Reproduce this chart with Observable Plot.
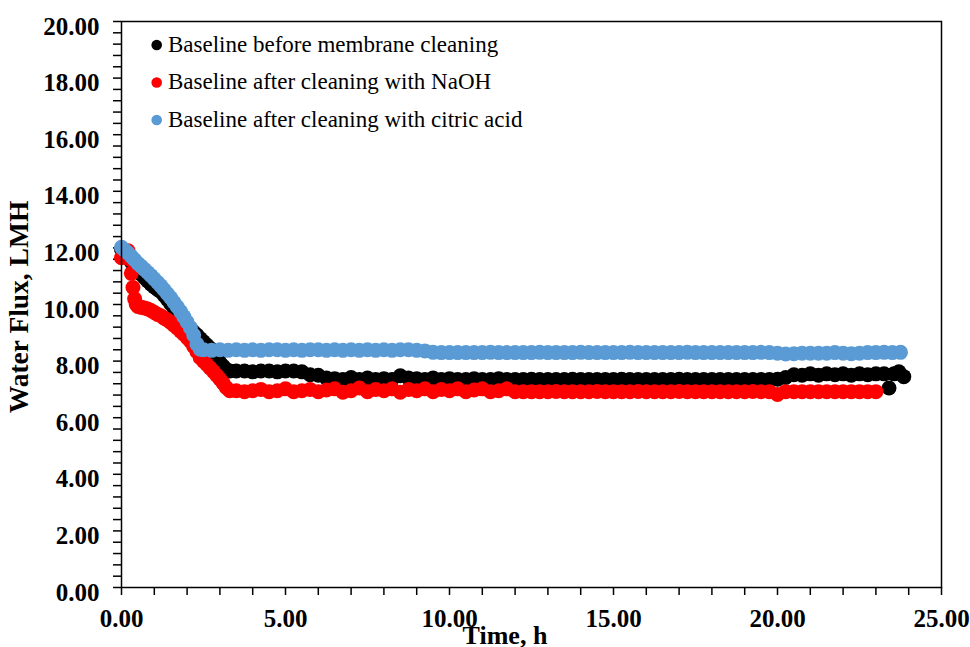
<!DOCTYPE html>
<html><head><meta charset="utf-8">
<script src="https://cdn.jsdelivr.net/npm/d3@7"></script>
<script src="https://cdn.jsdelivr.net/npm/@observablehq/plot@0.6"></script>
<style>
html,body{margin:0;padding:0;background:#fff;}
#chart{position:relative;width:970px;height:647px;overflow:hidden;}
</style></head><body><div id="chart"></div>
<script>
// ---- Data ----
const seriesNames = ["Baseline before membrane cleaning", "Baseline after cleaning with NaOH", "Baseline after cleaning with citric acid"];
const seriesColors = ["#000000", "#FF0000", "#5B9BD5"];

const beforeTime = [
  0,0.1,0.2,0.3,0.4,0.5,0.6,0.7,0.8,0.9,1.0,1.1,1.2,1.3,1.4,1.5,1.6,1.7,1.8,1.9,2.0,2.1,2.2,2.3,2.4,2.5,2.6,2.7,2.8,2.9,3.0,3.1,3.2,3.3,
  3.5,3.75,
  4,4.25,4.5,4.75, 5,5.25,5.5,5.75, 6,6.25,6.5,6.75, 7,7.25,7.5,7.75, 8,8.25,8.5,8.75, 9,9.25,9.5,9.75,
  10,10.25,10.5,10.75, 11,11.25,11.5,11.75, 12,12.25,12.5,12.75, 13,13.25,13.5,13.75, 14,14.25,14.5,14.75,
  15,15.25,15.5,15.75, 16,16.25,16.5,16.75, 17,17.25,17.5,17.75, 18,18.25,18.5,18.75, 19,19.25,19.5,19.75,
  20,20.25,20.5,20.75, 21,21.25,21.5,21.75, 22,22.25,22.5,22.75, 23,23.25,23.4,23.55,23.7,23.85
];
const beforeFlux = [
  11.95,11.8,11.65,11.5,11.34,11.2,11.07,10.95,10.83,10.72,10.62,10.53,10.45,10.32,10.18,10.03,9.88,9.72,9.57,9.42,9.3,9.17,9.03,8.92,8.8,8.68,8.57,8.45,8.25,8.1,7.95,7.82,7.7,7.65,
  7.65,7.65,
  7.62,7.65,7.65,7.62, 7.65,7.65,7.62,7.52, 7.5,7.4,7.38,7.35, 7.42,7.35,7.4,7.35, 7.38,7.35,7.48,7.4, 7.38,7.35,7.4,7.35,
  7.38,7.35,7.35,7.38, 7.35,7.35,7.38,7.35, 7.35,7.35,7.36,7.35, 7.35,7.35,7.35,7.36, 7.35,7.35,7.35,7.35,
  7.35,7.36,7.35,7.35, 7.35,7.35,7.35,7.35, 7.36,7.35,7.35,7.35, 7.35,7.35,7.35,7.35, 7.35,7.35,7.35,7.35,
  7.36,7.42,7.52,7.5, 7.55,7.5,7.55,7.52, 7.55,7.5,7.55,7.52, 7.55,7.55,7.05,7.55,7.62,7.45
];

const naohTime = [
  0,0.1,0.2,0.25,0.3,0.35,0.4,0.45,0.5,0.6,0.7,0.8,0.9,1.0,1.1,1.2,1.3,1.4,1.5,1.6,1.7,1.8,1.9,2.0,2.1,2.2,2.3,2.4,2.5,2.6,2.7,2.8,2.9,3.0,3.1,3.2,3.3,
  3.5,3.75,
  4,4.25,4.5,4.75, 5,5.25,5.5,5.75, 6,6.25,6.5,6.75, 7,7.25,7.5,7.75, 8,8.25,8.5,8.75, 9,9.25,9.5,9.75,
  10,10.25,10.5,10.75, 11,11.25,11.5,11.75, 12,12.25,12.5,12.75, 13,13.25,13.5,13.75, 14,14.25,14.5,14.75,
  15,15.25,15.5,15.75, 16,16.25,16.5,16.75, 17,17.25,17.5,17.75, 18,18.25,18.5,18.75, 19,19.25,19.5,19.75,
  20,20.25,20.5,20.75, 21,21.25,21.5,21.75, 22,22.25,22.5,22.75, 23
];
const naohFlux = [
  11.65,11.85,11.9,11.6,11.1,10.6,10.2,10.0,9.93,9.9,9.88,9.84,9.79,9.72,9.65,9.6,9.52,9.45,9.37,9.27,9.17,9.06,8.95,8.83,8.7,8.52,8.33,8.12,8.0,7.88,7.76,7.63,7.5,7.37,7.22,7.06,6.95,
  6.95,6.92,
  6.95,7.0,6.92,6.95, 7.02,6.92,6.95,7.0, 6.92,6.98,7.02,6.9, 6.95,7.05,6.92,7.0, 6.95,7.02,6.9,7.0, 6.95,7.02,6.92,7.0,
  6.95,7.02,6.92,6.98, 7.02,6.92,6.95,7.02, 6.92,6.92,6.92,6.92, 6.92,6.93,6.92,6.92, 6.92,6.92,6.93,6.92,
  6.92,6.92,6.92,6.93, 6.92,6.92,6.92,6.92, 6.93,6.92,6.92,6.92, 6.92,6.92,6.92,6.92, 6.92,6.93,6.92,6.92,
  6.82,6.92,6.92,6.92, 6.92,6.92,6.92,6.92, 6.92,6.92,6.92,6.92, 6.92
];

const citricTime = [
  0,0.1,0.2,0.3,0.4,0.5,0.6,0.7,0.8,0.9,1.0,1.1,1.2,1.3,1.4,1.5,1.6,1.7,1.8,1.9,2.0,2.1,2.2,2.3,2.4,
  2.5,2.75,
  3,3.25,3.5,3.75, 4,4.25,4.5,4.75, 5,5.25,5.5,5.75, 6,6.25,6.5,6.75, 7,7.25,7.5,7.75, 8,8.25,8.5,8.75, 9,9.25,9.5,9.75,
  10,10.25,10.5,10.75, 11,11.25,11.5,11.75, 12,12.25,12.5,12.75, 13,13.25,13.5,13.75, 14,14.25,14.5,14.75,
  15,15.25,15.5,15.75, 16,16.25,16.5,16.75, 17,17.25,17.5,17.75, 18,18.25,18.5,18.75, 19,19.25,19.5,19.75,
  20,20.25,20.5,20.75, 21,21.25,21.5,21.75, 22,22.25,22.5,22.75, 23,23.25,23.5,23.75
];
const citricFlux = [
  12.02,11.92,11.82,11.7,11.58,11.45,11.35,11.24,11.13,11.02,10.9,10.78,10.66,10.52,10.38,10.24,10.08,9.92,9.75,9.57,9.38,9.18,8.92,8.6,8.42,
  8.4,8.38,
  8.4,8.38,8.4,8.38, 8.4,8.38,8.4,8.4, 8.38,8.4,8.38,8.4, 8.4,8.38,8.4,8.38, 8.4,8.38,8.4,8.38, 8.4,8.38,8.4,8.4, 8.38,8.36,8.31,8.3,
  8.3,8.3,8.3,8.3, 8.3,8.31,8.3,8.3, 8.3,8.3,8.3,8.31, 8.3,8.3,8.3,8.3, 8.31,8.3,8.3,8.3,
  8.3,8.3,8.31,8.3, 8.3,8.3,8.3,8.3, 8.3,8.31,8.3,8.3, 8.3,8.3,8.3,8.3, 8.3,8.3,8.31,8.3,
  8.28,8.25,8.26,8.28, 8.28,8.28,8.28,8.3, 8.28,8.26,8.28,8.3, 8.3,8.31,8.3,8.31
];

const xMajor = [0, 5, 10, 15, 20, 25];
const xMinor = [0,1,2,3,4,5,6,7,8,9,10,11,12,13,14,15,16,17,18,19,20,21,22,23,24,25];
const yMajor = [0, 2, 4, 6, 8, 10, 12, 14, 16, 18, 20];
const yMinor = [0,0.4,0.8,1.2,1.6,2,2.4,2.8,3.2,3.6,4,4.4,4.8,5.2,5.6,6,6.4,6.8,7.2,7.6,8,8.4,8.8,9.2,9.6,10,10.4,10.8,11.2,11.6,12,12.4,12.8,13.2,13.6,14,14.4,14.8,15.2,15.6,16,16.4,16.8,17.2,17.6,18,18.4,18.8,19.2,19.6,20];
const xTitle = "Time, h";
const yTitle = "Water Flux, LMH";

// ---- Build tables ----
const zip = (ts, vs) => ts.map((t, i) => ({t, v: vs[i]}));
const before = zip(beforeTime, beforeFlux);
const naoh = zip(naohTime, naohFlux);
const citric = zip(citricTime, citricFlux);
const fmt = d => d.toFixed(2);
const serif = "'Liberation Serif','Times New Roman',serif";

const chart = Plot.plot({
  width: 970, height: 647,
  marginLeft: 121, marginRight: 29, marginTop: 21, marginBottom: 60,
  style: {fontFamily: serif, fontSize: "25px", fontWeight: "bold", color: "#000", background: "#fff", overflow: "visible"},
  x: {domain: [0, 25], label: null},
  y: {domain: [0, 20], label: null},
  marks: [
    Plot.axisX({ticks: xMinor, tickSize: 8, tickFormat: () => "", strokeWidth: 1.5, label: null}),
    Plot.axisX({ticks: xMajor, tickSize: 0, tickPadding: 22, tickFormat: fmt, label: null}),
    Plot.axisY({ticks: yMinor, tickSize: 8, tickFormat: () => "", strokeWidth: 1.5, label: null}),
    Plot.axisY({ticks: yMajor, tickSize: 0, tickPadding: 22, tickFormat: fmt, dy: 5, label: null}),
    Plot.dot(before, {x: "t", y: "v", r: 7.5, fill: seriesColors[0]}),
    Plot.dot(naoh, {x: "t", y: "v", r: 7.5, fill: seriesColors[1]}),
    Plot.dot(citric, {x: "t", y: "v", r: 7.5, fill: seriesColors[2]}),
    Plot.frame({stroke: "#000", strokeWidth: 1.5})
  ]
});
document.getElementById("chart").appendChild(chart);

const svg = d3.select(chart);

// ---- Axis titles ----
svg.append("text")
  .attr("transform", "translate(28,307) rotate(-90)")
  .attr("text-anchor", "middle").attr("font-family", serif)
  .attr("font-size", 27.5).attr("font-weight", "bold").attr("fill", "#000")
  .text(yTitle);
svg.append("text")
  .attr("x", 505).attr("y", 644)
  .attr("text-anchor", "middle").attr("font-family", serif)
  .attr("font-size", 26).attr("font-weight", "bold").attr("fill", "#000")
  .text(xTitle);

// ---- Legend (inside plot, top left) ----
const lg = svg.append("g").attr("font-family", serif)
  .attr("font-size", 23).attr("font-weight", "normal").attr("text-anchor", "start");
seriesNames.forEach((name, i) => {
  const cy = 45 + i * 37.5;
  lg.append("circle").attr("cx", 156.7).attr("cy", cy).attr("r", 5.3).attr("fill", seriesColors[i]);
  lg.append("text").attr("x", 168).attr("y", cy + 6.5).attr("fill", "#000").text(name);
});
</script>
</body></html>
